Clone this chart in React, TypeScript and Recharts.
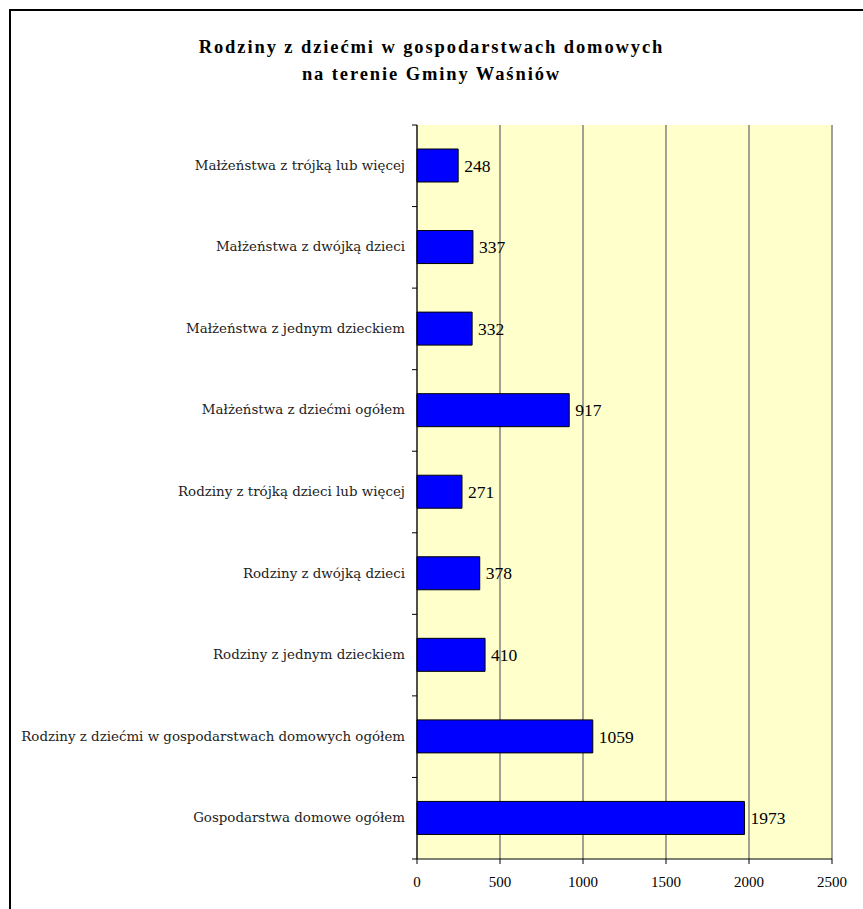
import React from "react"
import { BarChart, Bar, XAxis, YAxis, CartesianGrid, LabelList } from "recharts"

// categories, top to bottom
const categories = [
  "Małżeństwa z trójką lub więcej",
  "Małżeństwa z dwójką dzieci",
  "Małżeństwa z jednym dzieckiem",
  "Małżeństwa z dziećmi ogółem",
  "Rodziny z trójką dzieci lub więcej",
  "Rodziny z dwójką dzieci",
  "Rodziny z jednym dzieckiem",
  "Rodziny z dziećmi w gospodarstwach domowych ogółem",
  "Gospodarstwa domowe ogółem",
]

const counts = [248, 337, 332, 917, 271, 378, 410, 1059, 1973]

const xTicks = [0, 500, 1000, 1500, 2000, 2500]

const titleLines = ["Rodziny z dziećmi w gospodarstwach domowych", "na terenie Gminy Waśniów"]

const data = categories.map((name, i) => ({ name, value: counts[i] }))

const TICK_MARGIN = 12

// category tick: label centred in the band, small tick marks on the band edges
function CategoryTick(props: any) {
  const { x, y, payload, index, visibleTicksCount } = props
  const half = payload?.offset ?? 40.8
  const axisX = x + TICK_MARGIN
  const isLast = index === visibleTicksCount - 1
  return (
    <g>
      <line x1={axisX - 5} x2={axisX} y1={y - half} y2={y - half} stroke="#000" />
      {isLast && <line x1={axisX - 5} x2={axisX} y1={y + half} y2={y + half} stroke="#000" />}
      <text
        x={x}
        y={y}
        dy={4}
        textAnchor="end"
        fill="#222"
        fontFamily="'DejaVu Serif', serif"
        fontSize={13.4}
      >
        {payload.value}
      </text>
    </g>
  )
}

export default function App() {
  return (
    <div style={{ position: "relative", width: 863, height: 909, overflow: "hidden", background: "#fff" }}>
      <style>{`body{margin:0}`}</style>
      <div
        style={{
          position: "absolute",
          left: 9,
          top: 9,
          width: 900,
          height: 950,
          border: "2px solid #000",
        }}
      />
      <div
        style={{
          position: "absolute",
          left: 0,
          top: 34,
          width: 863,
          textAlign: "center",
          fontFamily: "'Liberation Serif', 'Times New Roman', serif",
          fontWeight: "bold",
          fontSize: 18.5,
          lineHeight: "27px",
          letterSpacing: 1.9,
          color: "#000",
        }}
      >
        {titleLines.map((t) => (
          <div key={t}>{t}</div>
        ))}
      </div>
      <div style={{ position: "absolute", left: 0, top: 0 }}>
        <BarChart
          width={863}
          height={909}
          data={data}
          layout="vertical"
          barSize={33}
          margin={{ top: 125, right: 31, left: 0, bottom: 20 }}
        >
          <CartesianGrid horizontal={false} vertical stroke="#808080" fill="#FFFFCC" strokeWidth={1.5} />
          <XAxis
            type="number"
            domain={[0, 2500]}
            ticks={xTicks}
            height={30}
            axisLine={{ stroke: "#000" }}
            tickLine={{ stroke: "#000" }}
            tickSize={5}
            tickMargin={12}
            tick={{ fill: "#000", fontFamily: "'Liberation Serif', serif", fontSize: 15 }}
          />
          <XAxis
            xAxisId="top"
            orientation="top"
            type="number"
            domain={[0, 2500]}
            height={0}
            tick={false}
            tickLine={false}
            axisLine={{ stroke: "#808080", strokeWidth: 1.5 }}
          />
          <YAxis
            type="category"
            dataKey="name"
            width={417}
            tickLine={false}
            tickSize={0}
            tickMargin={TICK_MARGIN}
            axisLine={{ stroke: "#000" }}
            tick={<CategoryTick />}
            interval={0}
          />
          <Bar dataKey="value" fill="#0000FF" stroke="#000" strokeWidth={1} isAnimationActive={false}>
            <LabelList
              dataKey="value"
              position="right"
              offset={6}
              fill="#000"
              fontFamily="'Liberation Serif', serif"
              fontSize={17.5}
            />
          </Bar>
        </BarChart>
      </div>
    </div>
  )
}
